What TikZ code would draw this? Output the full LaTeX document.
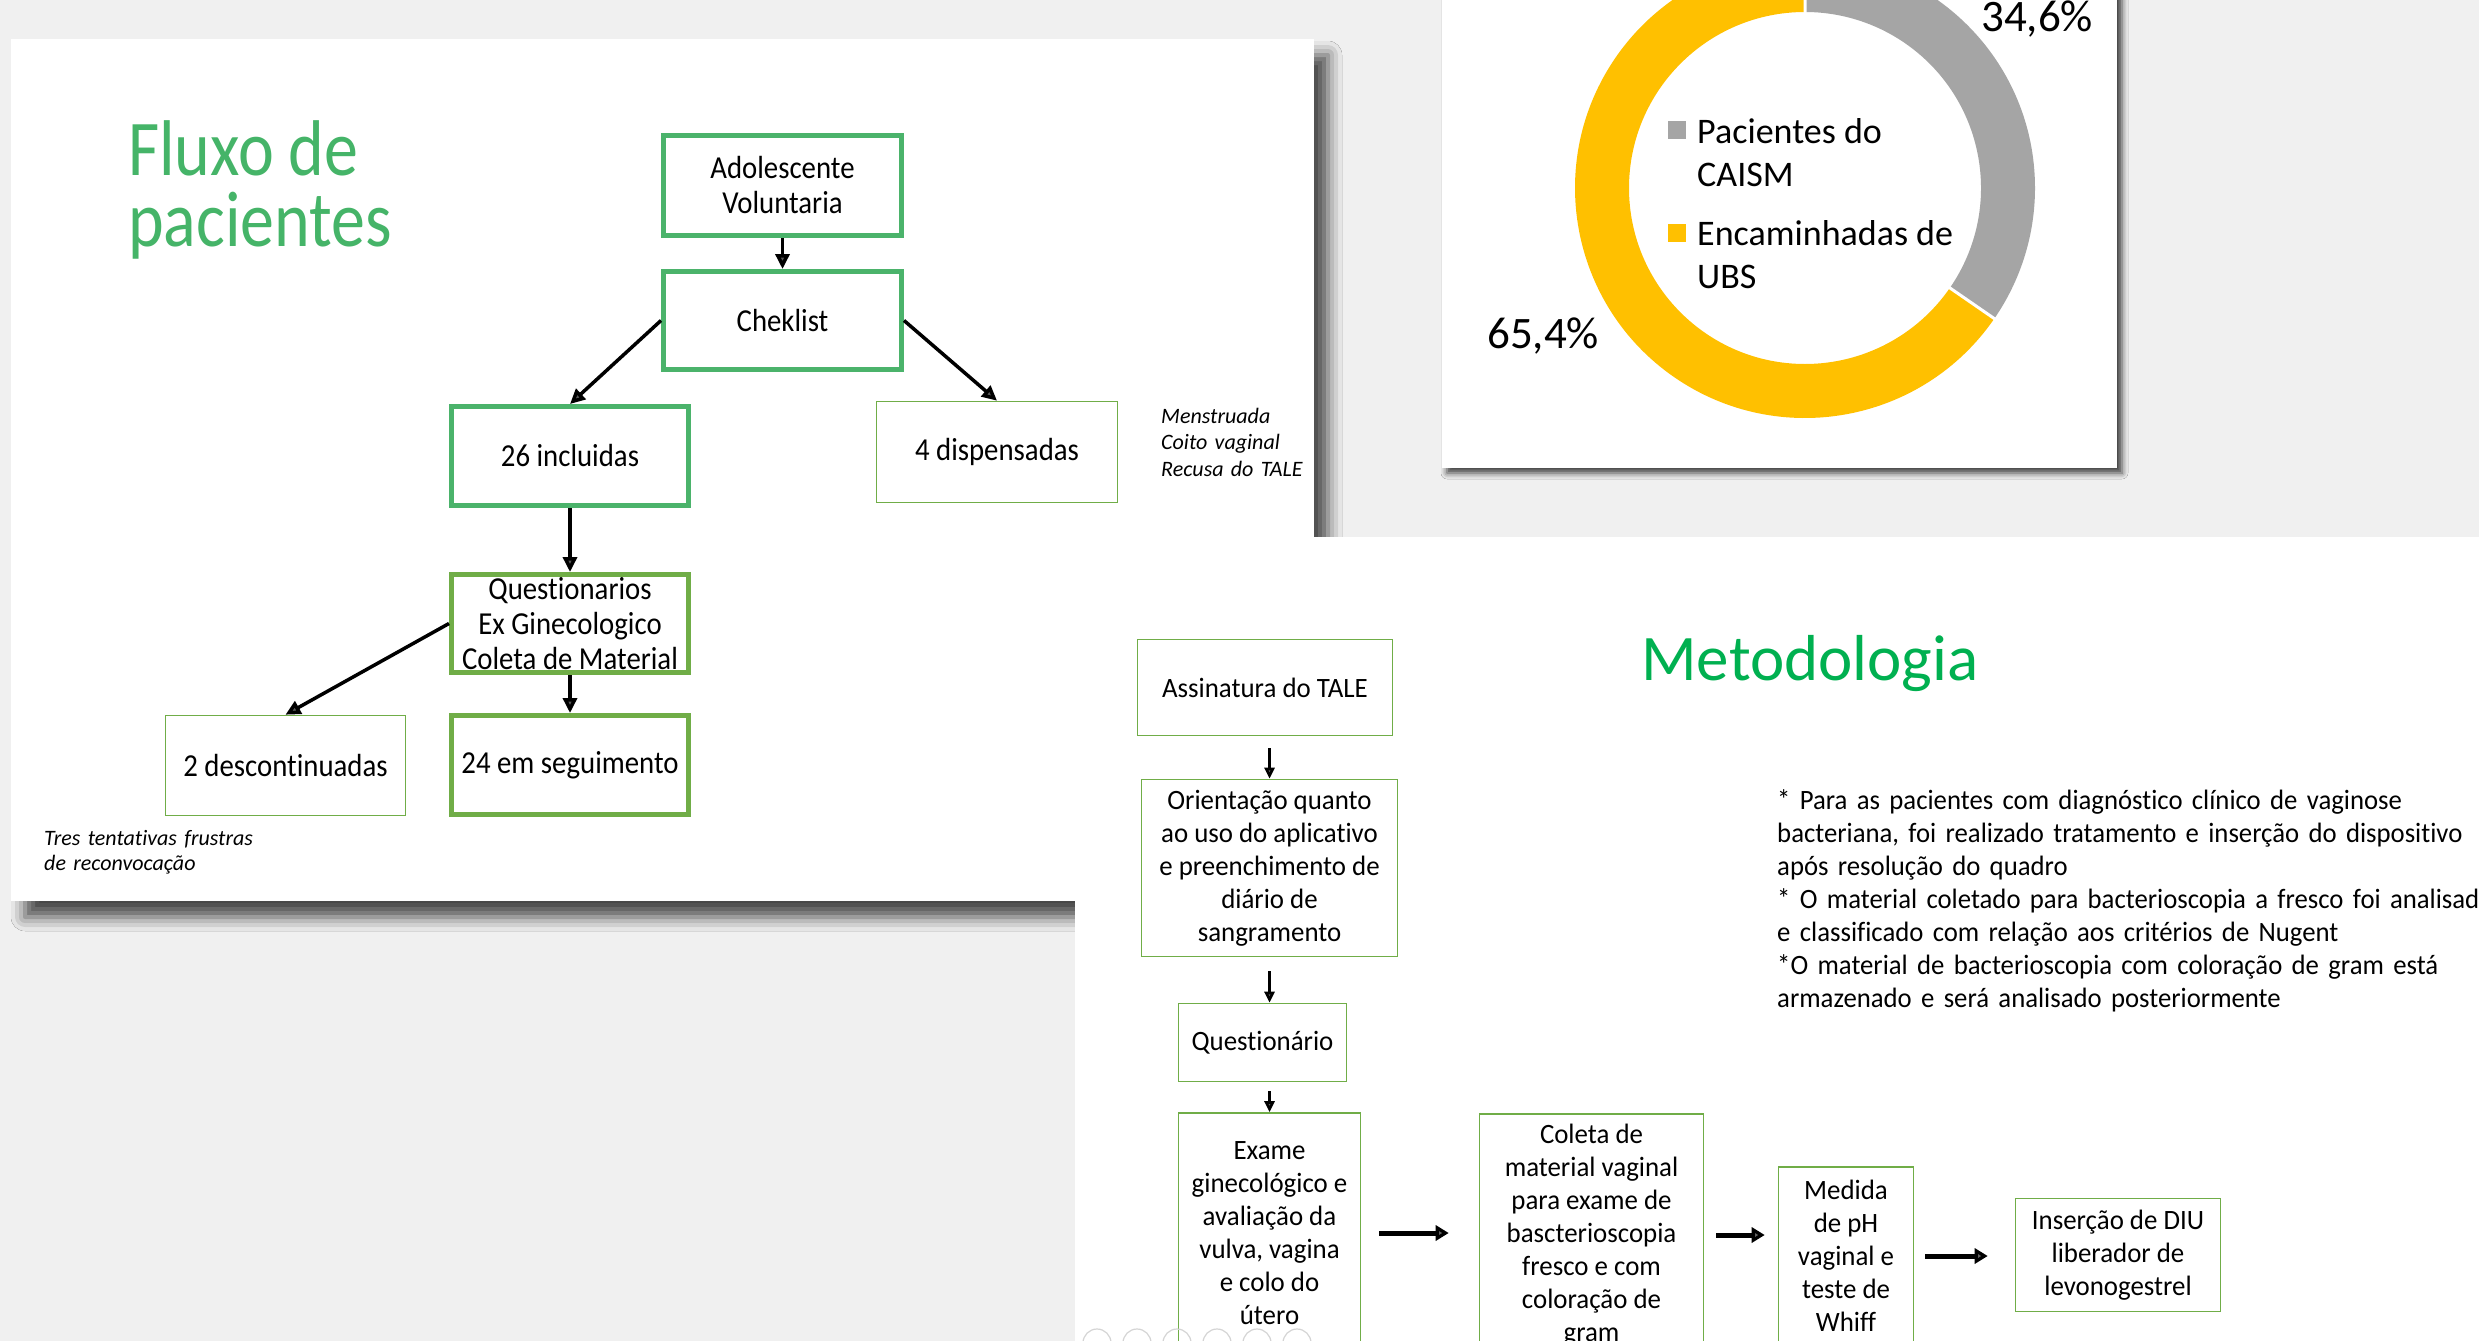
\documentclass[tikz,border=0pt]{standalone}
\usepackage{fontspec}
\defaultfontfeatures{Ligatures=CommonOff}
\setmainfont{Carlito}
\newfontfamily\fA[FakeStretch=0.9]{Carlito}
\newfontfamily\fT[FakeStretch=0.86]{Carlito}
\newfontfamily\fC[FakeStretch=0.96]{Carlito}
\newfontfamily\fN[FakeStretch=0.955]{Carlito}
\usetikzlibrary{arrows.meta,shadows.blur}
\definecolor{bggrey}{HTML}{F0F0F0}
\definecolor{titlegreen}{HTML}{45B468}
\definecolor{boxgreen}{HTML}{4BB36B}
\definecolor{olivegreen}{HTML}{70AD47}
\definecolor{metgreen}{HTML}{00B050}
\definecolor{pgrey}{HTML}{A5A5A5}
\definecolor{pgold}{HTML}{FFC000}
\definecolor{icongrey}{HTML}{D4D4D4}
\begin{document}
\begin{tikzpicture}[x=1pt,y=-1pt,
  fbox/.style={draw=boxgreen,line width=5pt,align=center,inner sep=0pt,font=\fA\fontsize{32}{35}\selectfont},
  obox/.style={fbox,draw=olivegreen},
  tbox/.style={fbox,draw=olivegreen,line width=1.6pt},
  mbox/.style={draw=olivegreen,line width=1.6pt,align=center,inner sep=0pt,font=\fC\fontsize{28}{33}\selectfont},
  farrow/.style={line width=3.5pt,-{Triangle[length=15pt,width=14pt]}},
  varrow/.style={line width=2.6pt,-{Triangle[length=11pt,width=10pt]}},
  harrow/.style={line width=5pt,-{Triangle[length=13pt,width=15pt]}},
  plain/.style={inner sep=0pt,align=left}
  ]
\useasboundingbox (0,0) rectangle (2479,1341);
\clip (0,0) rectangle (2479,1341);
\fill[bggrey] (0,0) rectangle (2479,1341);

% ---------------- Slide 1 ----------------
\path[fill=white,blur shadow={shadow xshift=14pt,shadow yshift=-16pt,shadow blur radius=14pt,shadow opacity=70}] (11,39) rectangle (1314,901);

\node[plain,anchor=base west,text width=500pt,text=titlegreen,font=\fT\fontsize{79}{71}\selectfont] (t1) at (128,175) {Fluxo\hspace{15pt}de\\pacientes};

\node[fbox,minimum width=238pt,minimum height=100pt] (adol) at (782.5,185.5) {Adolescente\\Voluntaria};
\node[fbox,minimum width=238pt,minimum height=98pt] (check) at (782.5,320.5) {Cheklist};
\node[fbox,minimum width=237pt,minimum height=99pt] (incl) at (570,456) {26 incluidas};
\node[tbox,minimum width=241pt,minimum height=101pt] (disp) at (997,452) {4 dispensadas};
\node[obox,minimum width=237pt,minimum height=98pt] (quest) at (570,623.5) {Questionarios\\Ex Ginecologico\\Coleta de Material};
\node[tbox,minimum width=240pt,minimum height=100pt] (desc) at (285.5,765.5) {2 descontinuadas};
\node[obox,minimum width=237pt,minimum height=99pt] (seg) at (570,765) {24 em seguimento};

\draw[farrow] (adol.south) -- (check.north);
\draw[farrow] (check.west) -- (incl.north);
\draw[farrow] (check.east) -- (disp.north);
\draw[farrow] (incl.south) -- (quest.north);
\draw[farrow] (quest.west) -- (desc.north);
\draw[farrow] (quest.south) -- (seg.north);

\node[plain,anchor=base west,text width=200pt,font=\itshape\fontsize{22}{26.5}\selectfont] (n1) at (1161,423) {Menstruada\\Coito vaginal\\Recusa do TALE};
\node[plain,anchor=base west,text width=300pt,font=\itshape\fontsize{22}{25}\selectfont] (n2) at (44,845) {Tres tentativas frustras\\de reconvocação};

% ---------------- Slide 2 ----------------
\path[fill=white,blur shadow={shadow xshift=5pt,shadow yshift=-5pt,shadow blur radius=6pt,shadow opacity=75}] (1442,-30) rectangle (2117,468);

\begin{scope}[shift={(1805,188)}]
  \fill[pgrey] (-90:230) arc[start angle=-90,end angle=34.6,radius=230] -- (34.6:176) arc[start angle=34.6,end angle=-90,radius=176] -- cycle;
  \fill[pgold] (34.6:230) arc[start angle=34.6,end angle=270,radius=230] -- (270:176) arc[start angle=270,end angle=34.6,radius=176] -- cycle;
  \draw[white,line width=3pt] (-90:174) -- (-90:232) (34.6:174) -- (34.6:232);
\end{scope}

\fill[pgrey] (1668,121) rectangle (1686,139);
\fill[pgold] (1668,224) rectangle (1686,242);
\node[plain,anchor=base west,font=\fontsize{36}{43}\selectfont] (l1) at (1697,143) {Pacientes do};
\node[plain,anchor=base west,font=\fontsize{36}{43}\selectfont] (l2) at (1697,186) {CAISM};
\node[plain,anchor=base west,font=\fontsize{36}{43}\selectfont] (l3) at (1697,245) {Encaminhadas de};
\node[plain,anchor=base west,font=\fontsize{36}{43}\selectfont] (l4) at (1697,288) {UBS};
\node[plain,anchor=base west,font=\fontsize{45}{50}\selectfont] (p1) at (1981,31) {34,6\%};
\node[plain,anchor=base west,font=\fontsize{45}{50}\selectfont] (p2) at (1487,348) {65,4\%};

% ---------------- Slide 3 ----------------
\fill[white] (1075,537) rectangle (2500,1360);

\node[inner sep=0pt,anchor=base,text=metgreen,font=\fontsize{65}{70}\selectfont] (t3) at (1810,680) {Metodologia};

\node[mbox,minimum width=255pt,minimum height=96pt] (assin) at (1265,687.5) {Assinatura do TALE};
\node[mbox,minimum width=256pt,minimum height=177pt] (orient) at (1269.5,868) {Orientação quanto\\ao uso do aplicativo\\e preenchimento de\\diário de\\sangramento};
\node[mbox,minimum width=168pt,minimum height=78pt] (questio) at (1262.5,1042.5) {Questionário};
\node[mbox,minimum width=182pt,minimum height=240pt] (exame) at (1269.5,1233) {Exame\\ginecológico e\\avaliação da\\vulva, vagina\\e colo do\\útero};
\node[mbox,minimum width=224pt,minimum height=242pt] (coleta) at (1591.5,1235) {Coleta de\\material vaginal\\para exame de\\bascterioscopia\\fresco e com\\coloração de\\gram};
\node[mbox,minimum width=135pt,minimum height=178pt] (medida) at (1846,1256) {Medida\\de pH\\vaginal e\\teste de\\Whiff};
\node[mbox,minimum width=205pt,minimum height=113pt] (insercao) at (2118,1255) {Inserção de DIU\\liberador de\\levonogestrel};

\draw[varrow,shorten <=12pt] (orient.north |- assin.south) -- (orient.north);
\draw[varrow,shorten <=14pt] (orient.south) -- (orient.south |- questio.north);
\draw[varrow,shorten <=9pt] (exame.north |- questio.south) -- (exame.north);
\draw[harrow,shorten <=18pt,shorten >=30pt] (exame.east) -- (coleta.west |- exame.east);
\draw[harrow,shorten <=12pt,shorten >=13pt] (coleta.east) -- (medida.west |- coleta.east);
\draw[harrow,shorten <=11pt,shorten >=27pt] (medida.east) -- (insercao.west |- medida.east);

\node[plain,anchor=base west,text width=900pt,font=\fN\fontsize{28}{33}\selectfont] (notes) at (1777,809.5) {* Para as pacientes com diagnóstico clínico de vaginose\\bacteriana, foi realizado tratamento e inserção do dispositivo\\após resolução do quadro\\{}* O material coletado para bacterioscopia a fresco foi analisado\\e classificado com relação aos critérios de Nugent\\{}*O material de bacterioscopia com coloração de gram está\\armazenado e será analisado posteriormente};

% slide-show control icons
\foreach \cx/\nm in {1097/i1,1137/i2,1177/i3,1217/i4,1257/i5,1297/i6}
  \draw[icongrey,line width=1.2pt] (\cx,1343) circle[radius=14] coordinate (\nm);
\end{tikzpicture}
\end{document}
